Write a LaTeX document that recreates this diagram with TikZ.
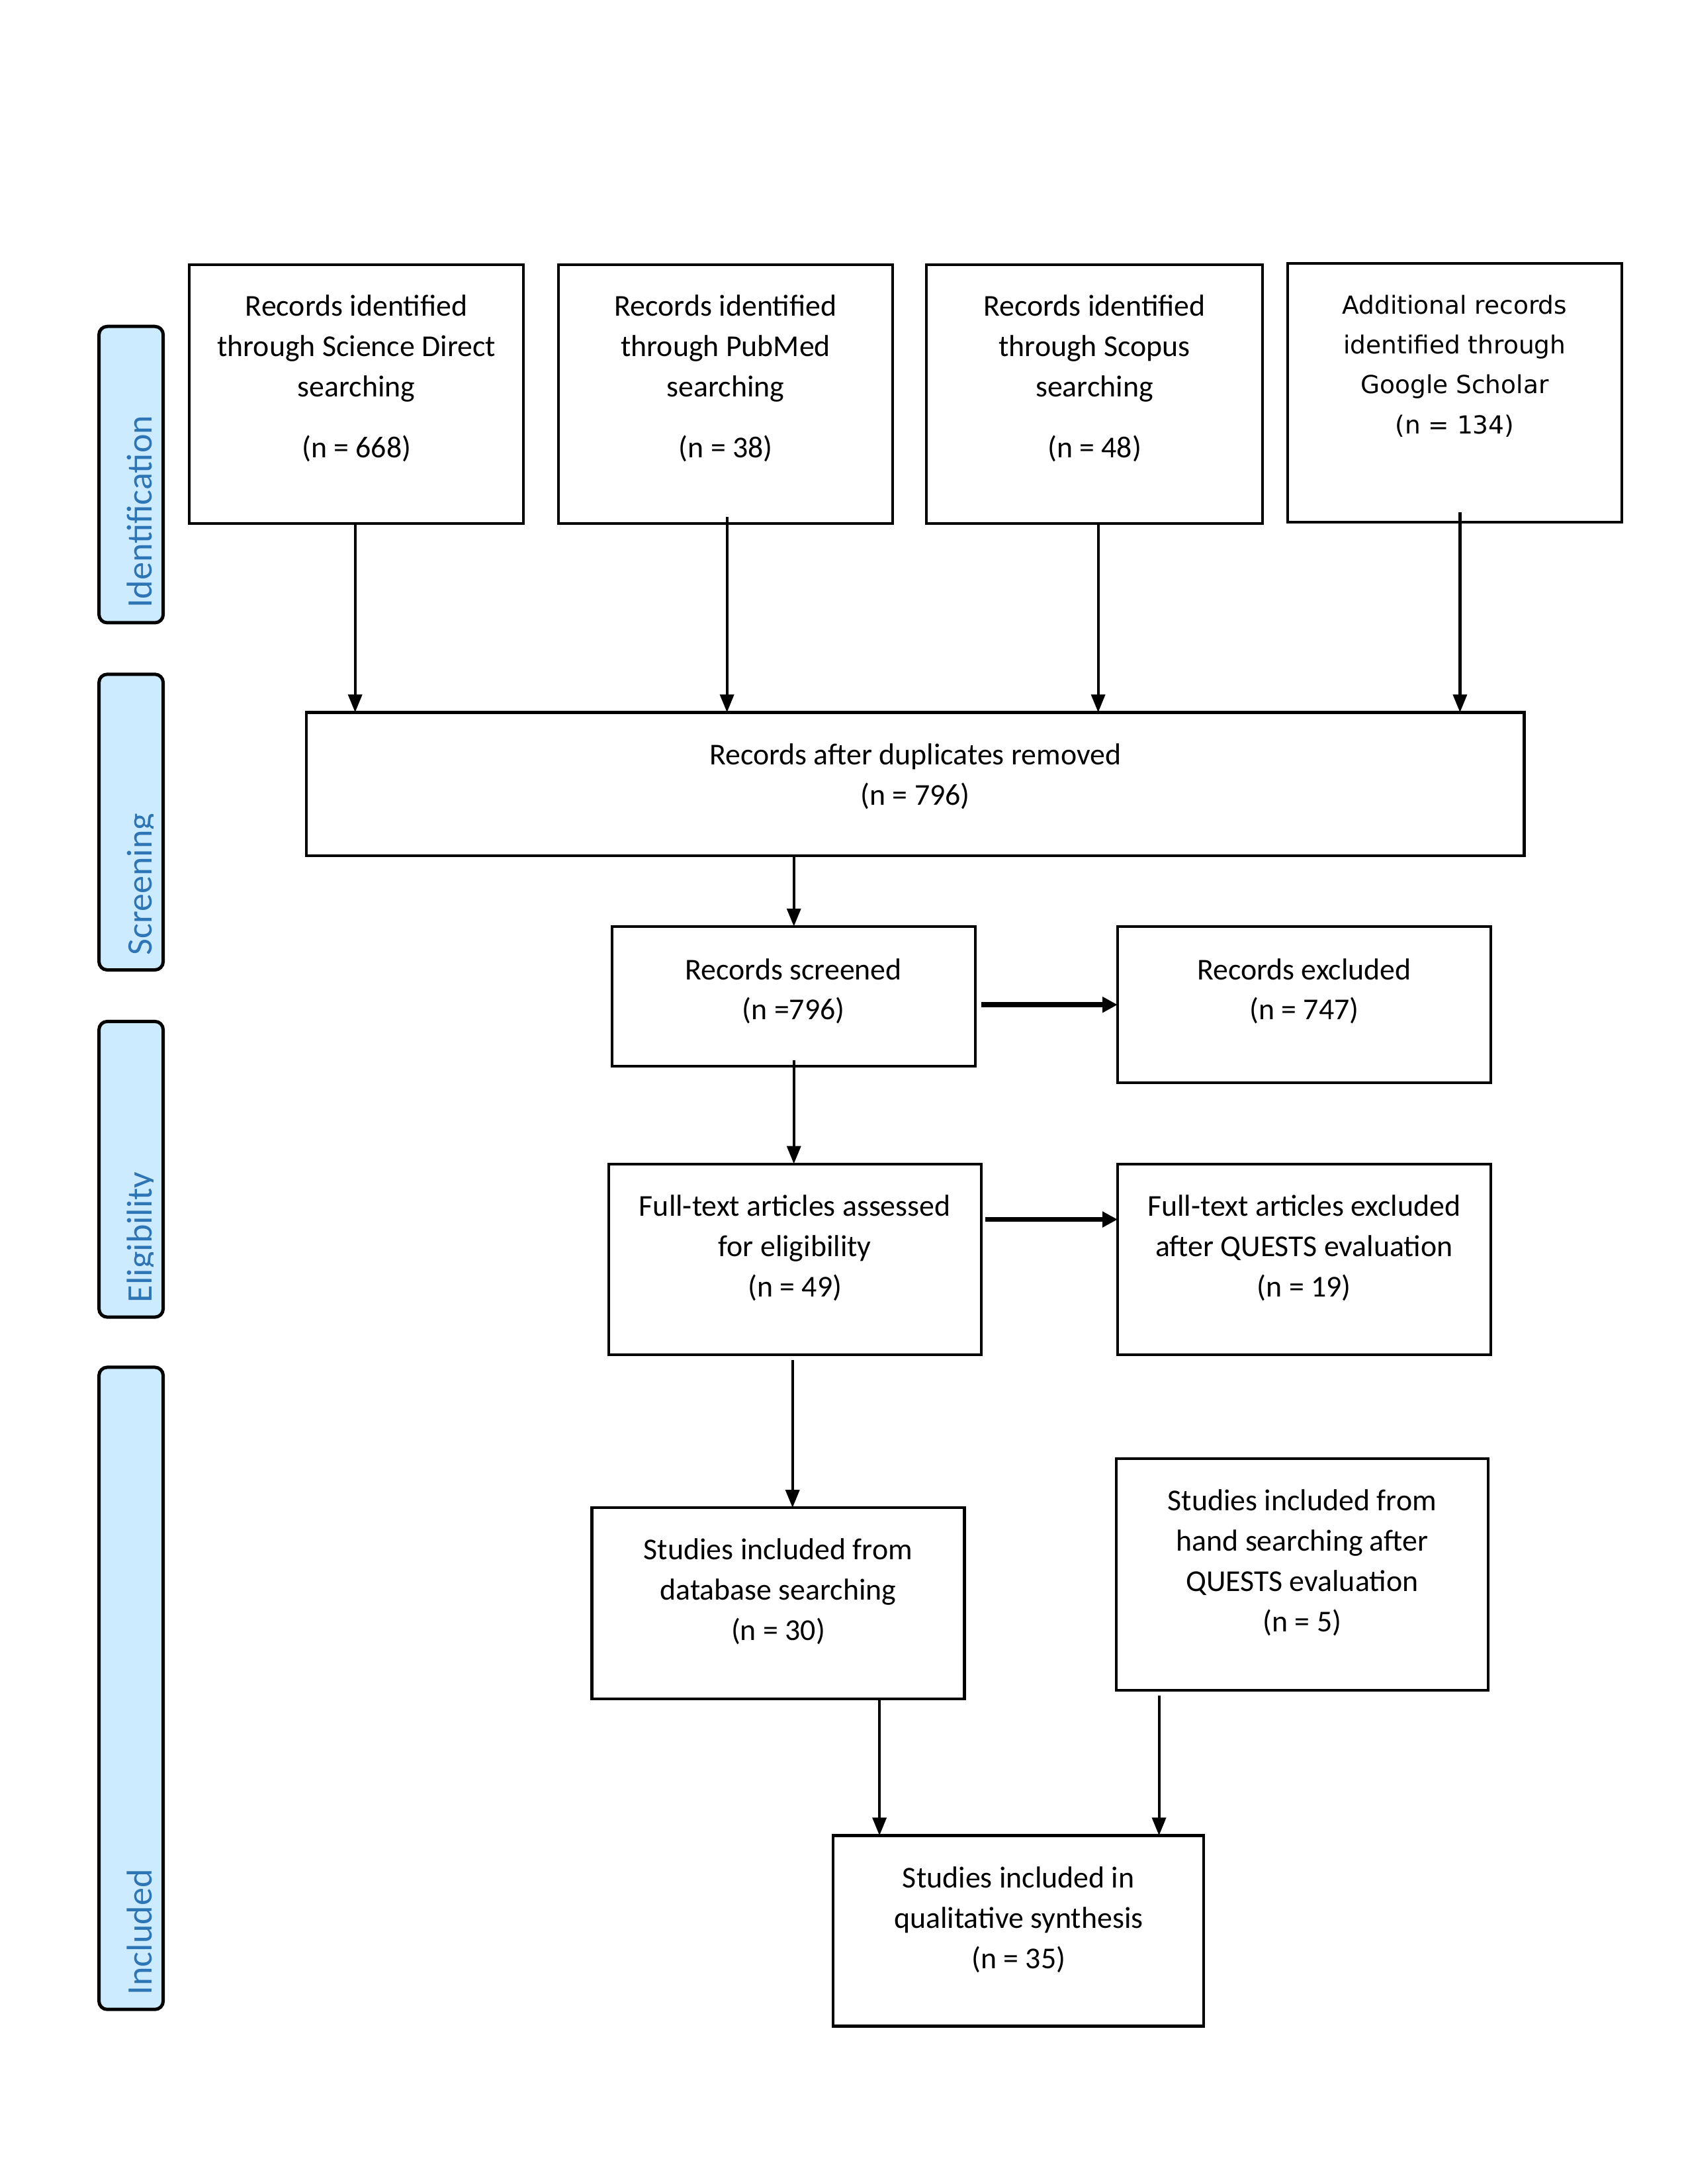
\documentclass[tikz,border=0pt]{standalone}
\usepackage{fontspec}
\setmainfont{Carlito}
\newfontfamily\gsfont{DejaVu Sans}
\usetikzlibrary{arrows.meta,calc}
\newlength{\pxu}\setlength{\pxu}{0.24257pt}
\definecolor{sidefill}{RGB}{204,235,255}
\definecolor{sideblue}{RGB}{46,117,182}
\tikzset{
 box/.style={draw=black, line width=1pt, inner sep=0pt, outer sep=0pt, anchor=north west},
 txt/.style={align=center, inner sep=0pt, anchor=north, font=\fontsize{11pt}{14.6pt}\selectfont},
 gstxt/.style={align=center, inner sep=0pt, anchor=north, font=\gsfont\fontsize{9pt}{14.5pt}\selectfont},
 side/.style={draw=black, line width=1.2pt, rounded corners=3pt, fill=sidefill, inner sep=0pt, outer sep=0pt, anchor=north west, minimum width=96\pxu},
 sidetxt/.style={rotate=90, anchor=base west, inner sep=0pt, text=sideblue, font=\fontsize{13pt}{15.6pt}\selectfont},
 arr/.style={line width=1pt, -{Triangle[length=6.5pt,width=5pt]}},
 harr/.style={line width=1.8pt, -{Triangle[length=5.5pt,width=5.5pt]}},
}
\begin{document}
\begin{tikzpicture}[x=\pxu, y=-\pxu]
\useasboundingbox (0,0) rectangle (2523,3265);
% side bars
\node[side, minimum height=443\pxu] (sid) at (148,488) {};
\node[side, minimum height=442\pxu] (ssc) at (148,1008) {};
\node[side, minimum height=442\pxu] (sel) at (148,1527) {};
\node[side, minimum height=960\pxu] (sin) at (148,2044) {};
\node[sidetxt] (lid) at (227,910) {Identification};
\begin{scope}
\clip (148,1008) rectangle (229,1450);
\node[sidetxt] (lsc) at (227,1429) {Screening};
\end{scope}
\begin{scope}
\clip (148,1527) rectangle (229,1969);
\node[sidetxt] (lel) at (227,1948) {Eligibility};
\end{scope}
\node[sidetxt] (lin) at (227,2983) {Included};
% boxes
\node[box, minimum width=500\pxu, minimum height=387\pxu] (b1) at (283,396) {};
\node[box, minimum width=500\pxu, minimum height=387\pxu] (b2) at (835,396) {};
\node[box, minimum width=503\pxu, minimum height=387\pxu] (b3) at (1385,396) {};
\node[box, minimum width=500\pxu, minimum height=387\pxu] (b4) at (1925,394) {};
\node[box, minimum width=1821\pxu, minimum height=214\pxu] (dd) at (458,1065) {};
\node[box, minimum width=543\pxu, minimum height=209\pxu] (scr) at (915,1385) {};
\node[box, minimum width=558\pxu, minimum height=234\pxu] (exc) at (1671,1385) {};
\node[box, minimum width=557\pxu, minimum height=285\pxu] (ft) at (910,1740) {};
\node[box, minimum width=558\pxu, minimum height=285\pxu] (ex2) at (1671,1740) {};
\node[box, minimum width=557\pxu, minimum height=286\pxu] (db) at (885,2254) {};
\node[box, minimum width=556\pxu, minimum height=346\pxu] (hs) at (1669,2181) {};
\node[box, minimum width=554\pxu, minimum height=285\pxu] (fin) at (1246,2744) {};
% texts
\node[txt] (t1) at ([yshift=-44\pxu]b1.north) {Records identified\\through Science Direct\\searching\\[7.5pt](n = 668)};
\node[txt] (t2) at ([yshift=-44\pxu]b2.north) {Records identified\\through PubMed\\searching\\[7.5pt](n = 38)};
\node[txt] (t3) at ([yshift=-44\pxu]b3.north) {Records identified\\through Scopus\\searching\\[7.5pt](n = 48)};
\node[gstxt] (t4) at ([yshift=-46\pxu]b4.north) {Additional records\\identified through\\Google Scholar\\(n = 134)};
\node[txt] (tdd) at ([yshift=-46\pxu]dd.north) {Records after duplicates removed\\(n = 796)};
\node[txt] (tscr) at ([yshift=-47\pxu]scr.north) {Records screened\\(n =796)};
\node[txt] (texc) at ([yshift=-47\pxu]exc.north) {Records excluded\\(n = 747)};
\node[txt] (tft) at ([yshift=-46\pxu]ft.north) {Full-text articles assessed\\for eligibility\\(n = 49)};
\node[txt] (tex2) at ([yshift=-46\pxu]ex2.north) {Full-text articles excluded\\after QUESTS evaluation\\(n = 19)};
\node[txt] (tdb) at ([yshift=-45\pxu]db.north) {Studies included from\\database searching\\(n = 30)};
\node[txt] (ths) at ([yshift=-45\pxu]hs.north) {Studies included from\\hand searching after\\QUESTS evaluation\\(n = 5)};
\node[txt] (tfin) at ([yshift=-46\pxu]fin.north) {Studies included in\\qualitative synthesis\\(n = 35)};
% arrow start points
\coordinate (a1s) at (531,783);
\coordinate (a2s) at (1087,773);
\coordinate (a3s) at (1642,783);
\coordinate (a4s) at (2183,766);
\coordinate (a5s) at (1187,1279);
\coordinate (a6s) at (1467,1502);
\coordinate (a7s) at (1187,1585);
\coordinate (a8s) at (1473,1823);
\coordinate (a9s) at (1185,2033);
\coordinate (a10s) at (1315,2540);
\coordinate (a11s) at (1733,2535);
% arrows
\draw[arr] (a1s) -- (a1s |- dd.north);
\draw[arr] (a2s) -- (a2s |- dd.north);
\draw[arr] (a3s) -- (a3s |- dd.north);
\draw[arr] (a4s) -- (a4s |- dd.north);
\draw[arr] (a5s) -- (a5s |- scr.north);
\draw[harr] (a6s) -- (a6s -| exc.west);
\draw[arr] (a7s) -- (a7s |- ft.north);
\draw[harr] (a8s) -- (a8s -| ex2.west);
\draw[arr] (a9s) -- (a9s |- db.north);
\draw[arr] (a10s) -- (a10s |- fin.north);
\draw[arr] (a11s) -- (a11s |- fin.north);
\end{tikzpicture}
\end{document}
